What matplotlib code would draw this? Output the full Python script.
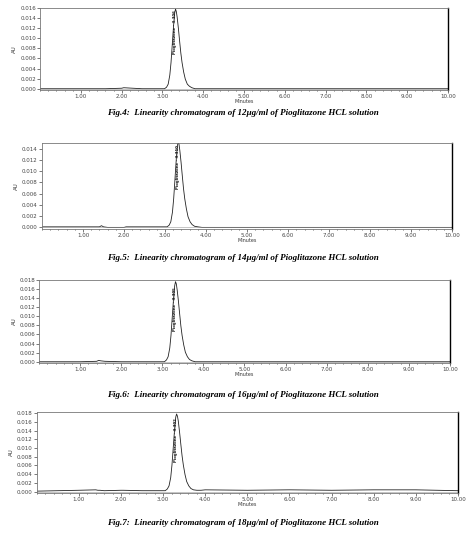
import matplotlib
matplotlib.use('Agg')
import matplotlib.pyplot as plt
import numpy as np
from matplotlib.ticker import MultipleLocator, FormatStrFormatter

# retention time (min) grid
time = [0.00, 0.50, 1.00, 1.40, 1.45, 1.50, 1.60, 2.00, 2.05, 2.50, 2.80, 2.95,
        3.05, 3.10, 3.14, 3.18, 3.21, 3.24, 3.26, 3.28, 3.30, 3.32, 3.34, 3.36, 3.39,
        3.42, 3.45, 3.48, 3.52, 3.56, 3.61, 3.66, 3.72, 3.80,
        3.90, 4.00, 5.00, 6.00, 7.00, 8.00, 9.00, 10.00]

# absorbance (AU) for each injection
au_12 = [0.0000, 0.0000, 0.0000, 0.0000, 0.0000, 0.0000, 0.0000, 0.0001, 0.0002, 0.0000, 0.0000, 0.0000,
         0.0000, 0.0003, 0.0009, 0.0027, 0.0052, 0.0087, 0.0111, 0.0133, 0.0150, 0.0158, 0.0153, 0.0142,
         0.0120, 0.0095, 0.0071, 0.0052, 0.0033, 0.0019, 0.0009, 0.0005, 0.0002, 0.0000,
         0.0000, 0.0000, 0.0000, 0.0000, 0.0000, 0.0000, 0.0000, 0.0000]
au_14 = [0.0001, 0.0001, 0.0001, 0.0001, 0.0003, 0.0001, 0.0000, 0.0000, 0.0001, 0.0001, 0.0001, 0.0001,
         0.0001, 0.0004, 0.0010, 0.0027, 0.0051, 0.0084, 0.0107, 0.0128, 0.0145, 0.0152, 0.0148, 0.0137,
         0.0116, 0.0092, 0.0069, 0.0051, 0.0033, 0.0019, 0.0010, 0.0005, 0.0002, 0.0001,
         0.0000, 0.0000, 0.0000, 0.0000, 0.0000, 0.0000, 0.0000, 0.0000]
au_16 = [0.0000, 0.0000, 0.0000, 0.0001, 0.0003, 0.0002, 0.0001, 0.0000, 0.0000, 0.0000, 0.0000, 0.0000,
         0.0000, 0.0004, 0.0011, 0.0030, 0.0058, 0.0097, 0.0123, 0.0148, 0.0167, 0.0176, 0.0171, 0.0158,
         0.0134, 0.0106, 0.0079, 0.0058, 0.0037, 0.0021, 0.0011, 0.0005, 0.0002, 0.0000,
         0.0000, 0.0000, 0.0000, 0.0000, 0.0000, 0.0000, 0.0000, 0.0000]
au_18 = [0.0001, 0.0002, 0.0003, 0.0004, 0.0003, 0.0003, 0.0002, 0.0003, 0.0003, 0.0002, 0.0002, 0.0002,
         0.0002, 0.0006, 0.0013, 0.0032, 0.0061, 0.0100, 0.0127, 0.0152, 0.0171, 0.0178, 0.0173, 0.0162,
         0.0137, 0.0109, 0.0082, 0.0061, 0.0039, 0.0023, 0.0013, 0.0007, 0.0004, 0.0003,
         0.0003, 0.0004, 0.0003, 0.0004, 0.0003, 0.0004, 0.0004, 0.0002]

traces = [au_12, au_14, au_16, au_18]
y_tops = [0.016, 0.015, 0.018, 0.0182]
peak_labels = ['Pioglitazone - 3.306', 'Pioglitazone - 3.310', 'Pioglitazone - 3.305', 'Pioglitazone - 3.302']
captions = ['Fig.4:  Linearity chromatogram of 12\u00b5g/ml of Pioglitazone HCL solution',
            'Fig.5:  Linearity chromatogram of 14\u00b5g/ml of Pioglitazone HCL solution',
            'Fig.6:  Linearity chromatogram of 16\u00b5g/ml of Pioglitazone HCL solution',
            'Fig.7:  Linearity chromatogram of 18\u00b5g/ml of Pioglitazone HCL solution']

# axes boxes [left, bottom, width, height] and caption heights (figure fraction)
boxes = [[0.085, 0.831, 0.864, 0.154],
         [0.089, 0.571, 0.869, 0.161],
         [0.083, 0.320, 0.870, 0.156],
         [0.078, 0.077, 0.892, 0.151]]
cap_y = [0.788, 0.517, 0.260, 0.021]

fig = plt.figure(figsize=(4.72, 5.34), dpi=100)
for trace, top, lab, cap, box, cy in zip(traces, y_tops, peak_labels, captions, boxes, cap_y):
    ax = fig.add_axes(box)
    ax.plot(time, trace, color='#222222', lw=0.6)
    ax.set_xlim(0, 10)
    ax.set_ylim(-0.0003, top)
    ax.xaxis.set_minor_locator(MultipleLocator(0.2))
    ax.yaxis.set_major_locator(MultipleLocator(0.002))
    ax.xaxis.set_major_formatter(FormatStrFormatter('%.2f'))
    ax.yaxis.set_major_formatter(FormatStrFormatter('%.3f'))
    ax.set_xticks(np.arange(1, 11))
    ax.tick_params(labelsize=4, colors='#444444', length=2, width=0.5, pad=1)
    ax.tick_params(which='minor', length=1, width=0.4)
    for s in ['top', 'left', 'bottom']:
        ax.spines[s].set_color('#777777')
        ax.spines[s].set_linewidth(0.6)
    ax.spines['right'].set_linewidth(1.0)
    ax.axhline(0, color='#999999', lw=0.4)
    ax.set_xlabel('Minutes', fontsize=3.5, labelpad=0, color='#333333')
    ax.set_ylabel('AU', fontsize=4, labelpad=2, color='#333333')
    ax.text(3.31, 0.0068, lab, rotation=90, fontsize=2.8, ha='center', va='bottom',
            color='#111111', weight='bold')
    fig.text(0.515, cy, cap, ha='center', va='center', fontsize=6.5,
             family='Liberation Serif', style='italic', weight='bold')

fig.savefig('out.png', dpi=100)
plt.close('all')
